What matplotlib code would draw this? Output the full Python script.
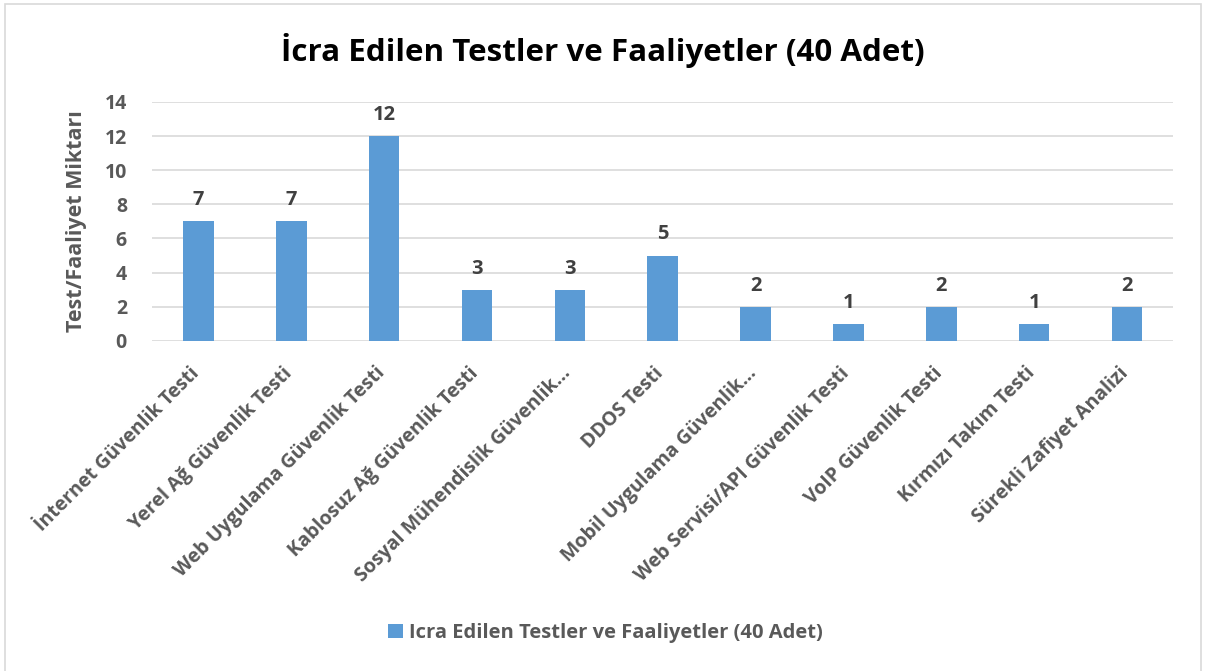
import matplotlib.pyplot as plt
from matplotlib.patches import Rectangle
from matplotlib.transforms import ScaledTranslation

categories = ["İnternet Güvenlik Testi", "Yerel Ağ Güvenlik Testi",
              "Web Uygulama Güvenlik Testi", "Kablosuz Ağ Güvenlik Testi",
              "Sosyal Mühendislik Güvenlik…", "DDOS Testi",
              "Mobil Uygulama Güvenlik…", "Web Servisi/API Güvenlik Testi",
              "VoIP Güvenlik Testi", "Kırmızı Takım Testi",
              "Sürekli Zafiyet Analizi"]
values = [7, 7, 12, 3, 3, 5, 2, 1, 2, 1, 2]
yticks = [0, 2, 4, 6, 8, 10, 12, 14]
series_name = "Icra Edilen Testler ve Faaliyetler (40 Adet)"
title = "İcra Edilen Testler ve Faaliyetler (40 Adet)"

plt.rcParams['font.family'] = ['Open Sans', 'DejaVu Sans']
gray = '#595959'
blue = '#5B9BD5'

fig = plt.figure(figsize=(12.06, 6.71), dpi=100)
ax = fig.add_axes([0.126, 0.492, 0.847, 0.356])

x = range(len(categories))
bars = ax.bar(x, values, width=0.33, color=blue, label=series_name, zorder=3)
for b, v in zip(bars, values):
    ax.annotate(str(v), (b.get_x() + b.get_width() / 2, v), xytext=(0, 8),
                textcoords='offset points', ha='center', va='bottom',
                fontsize=14.5, fontweight='bold', color='#404040')

ax.set_xlim(-0.5, len(categories) - 0.5)
ax.set_ylim(0, 14)
ax.set_yticks(yticks)
ax.grid(axis='y', color='#D9D9D9', linewidth=1.2, zorder=0)
for s in ax.spines.values():
    s.set_visible(False)
ax.tick_params(length=0)
ax.tick_params(axis='y', labelsize=14, labelcolor=gray, pad=18)
ax.set_xticks(list(x))
ax.set_xticklabels(categories, rotation=45, ha='right', rotation_mode='anchor',
                   fontsize=14, color=gray, fontweight='bold')
ax.tick_params(axis='x', pad=16)
shift = ScaledTranslation(-9 / 100, 0, fig.dpi_scale_trans)
for t in ax.get_xticklabels():
    t.set_transform(t.get_transform() + shift)
for t in ax.get_yticklabels():
    t.set_fontweight('bold')
ax.set_ylabel("Test/Faaliyet Miktarı", fontsize=15.5, fontweight='bold',
              color=gray, labelpad=13)

fig.text(0.5, 0.925, title, ha='center', va='center', fontsize=22.6,
         fontweight='bold', color='black')

leg = fig.legend(loc='center', bbox_to_anchor=(0.502, 0.057), frameon=False,
                 handlelength=0.7, handleheight=0.7, handletextpad=0.3,
                 prop={'size': 14.5, 'weight': 'bold'})
for t in leg.get_texts():
    t.set_color(gray)

fig.patches.append(Rectangle((0.004, -0.01), 0.992, 1.004, transform=fig.transFigure,
                             fill=False, edgecolor='#D9D9D9', linewidth=1.2))

fig.savefig('out.png', dpi=100)
